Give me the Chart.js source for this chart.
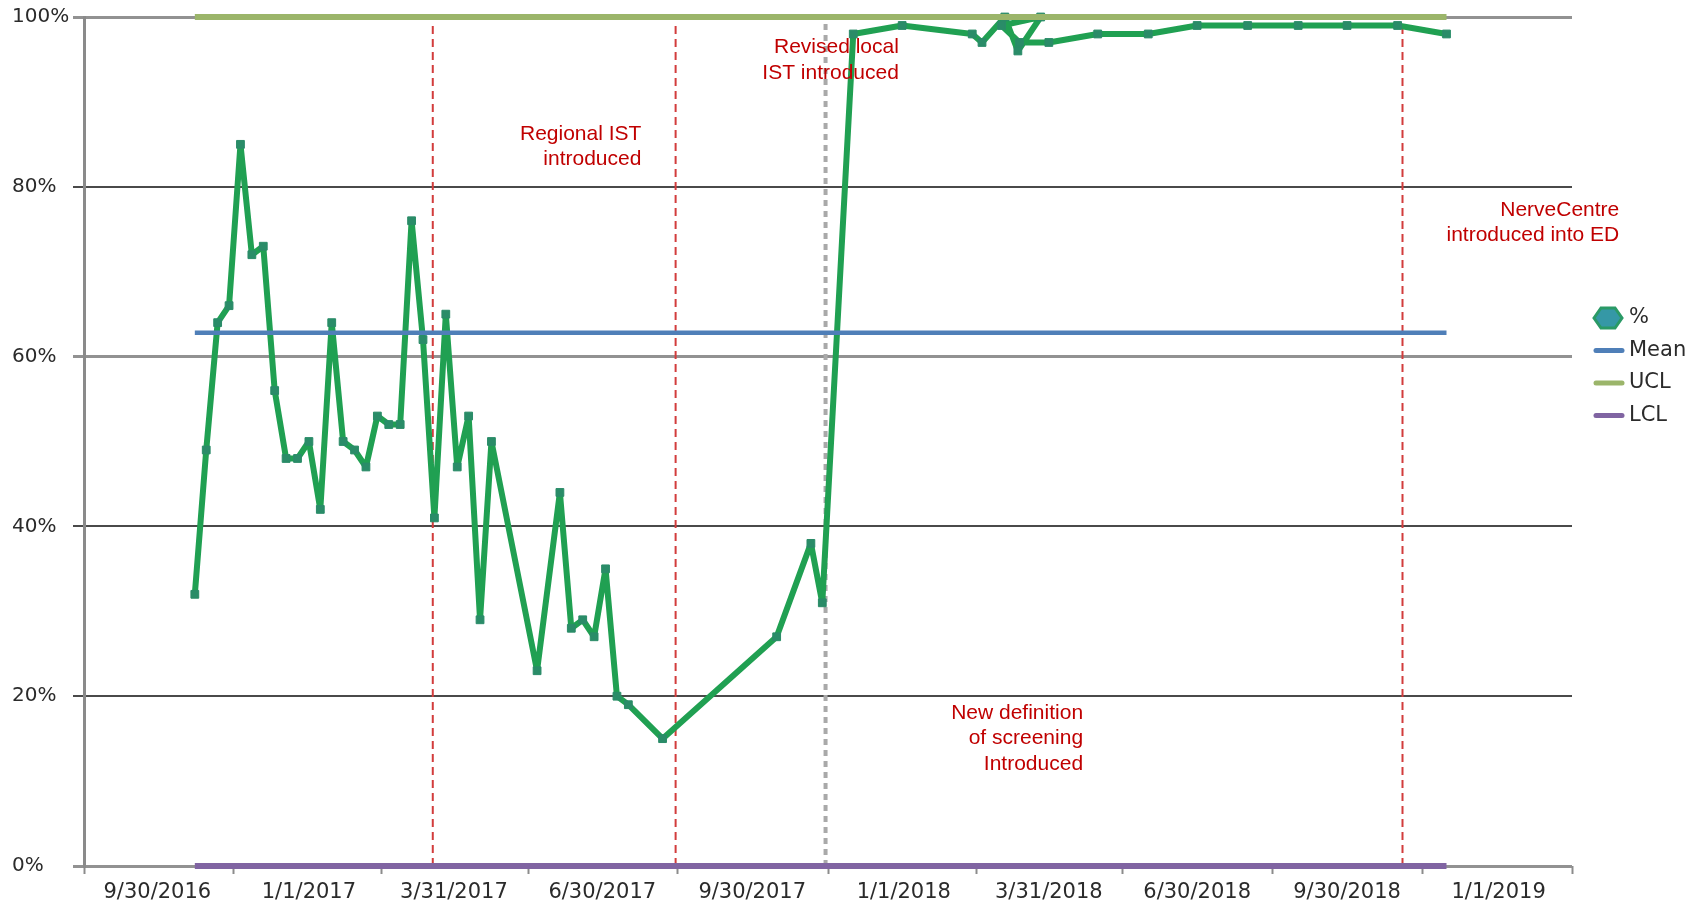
<!DOCTYPE html>
<html>
<head>
<meta charset="utf-8">
<title>Sepsis screening compliance</title>
<script src="https://cdn.jsdelivr.net/npm/chart.js@4.4.1/dist/chart.umd.min.js"></script>
<style>
  html, body { margin: 0; padding: 0; background: #ffffff; }
  canvas { display: block; }
</style>
</head>
<body>
<canvas id="spc" width="1707" height="912"></canvas>
<script>
// ---- data ----
const sampleDates = [
  '2016-10-23','2016-10-30','2016-11-06','2016-11-13','2016-11-20','2016-11-27','2016-12-04','2016-12-11','2016-12-18','2016-12-25',
  '2017-01-01','2017-01-08','2017-01-15','2017-01-22','2017-01-29','2017-02-05','2017-02-12','2017-02-19','2017-02-26',
  '2017-03-05','2017-03-12','2017-03-19','2017-03-26','2017-04-02','2017-04-09','2017-04-16','2017-04-23',
  '2017-05-21','2017-06-04','2017-06-11','2017-06-18','2017-06-25','2017-07-02','2017-07-09','2017-07-16','2017-08-06',
  '2017-10-15','2017-11-05','2017-11-12','2017-12-01','2017-12-31',
  '2018-02-12','2018-02-18','2018-03-04','2018-03-12','2018-03-26','2018-03-02','2018-03-13','2018-03-31',
  '2018-04-30','2018-05-31','2018-06-30','2018-07-31','2018-08-31','2018-09-30','2018-10-31','2018-11-30'
];
const screenedPct = [
  32, 49, 64, 66, 85, 72, 73, 56, 48, 48,
  50, 42, 64, 50, 49, 47, 53, 52, 52,
  76, 62, 41, 65, 47, 53, 29, 50,
  23, 44, 28, 29, 27, 35, 20, 19, 15,
  27, 38, 31, 98, 99,
  98, 97, 100, 96, 100, 99, 97, 97,
  98, 98, 99, 99, 99, 99, 99, 98
];
const meanPct = 62.8;
const uclPct = 100;
const lclPct = 0;

const tickDates = ['2016-09-30','2017-01-01','2017-03-31','2017-06-30','2017-09-30',
                   '2018-01-01','2018-03-31','2018-06-30','2018-09-30','2019-01-01'];
const yTickValues = [0, 20, 40, 60, 80, 100];
const axisStart = '2016-08-16';
const axisEnd = '2019-02-15';

// intervention markers
const eventDates = ['2017-03-18', '2017-08-14', '2018-11-03'];
const revisedIstDate = '2017-11-14';
const eventLineTop = 99.2;

const noteTexts = [
  ['Regional IST', 'introduced'],
  ['Revised local', 'IST introduced'],
  ['New definition', 'of screening', 'Introduced'],
  ['NerveCentre', 'introduced into ED']
];
// anchor of each note: right edge (date) and centre of first line (value)
const noteAnchorDates = ['2017-07-24', '2017-12-29', '2018-04-21', '2019-03-16'];
const noteAnchorValues = [86.2, 96.4, 18.0, 77.3];

// ---- helpers ----
function dayNum(s) {
  const [y, m, d] = s.split('-').map(Number);
  return Date.UTC(y, m - 1, d) / 86400000;
}
function fmtDate(s) {
  const [y, m, d] = s.split('-').map(Number);
  return m + '/' + d + '/' + y;
}

const xMin = dayNum(axisStart);
const xMax = dayNum(axisEnd);
const labelDays = tickDates.map(dayNum);
const labelText = new Map(tickDates.map(s => [dayNum(s), fmtDate(s)]));
// tick marks sit half-way between labelled dates
const boundaryDays = [xMin];
for (let i = 1; i < labelDays.length; i++) boundaryDays.push((labelDays[i - 1] + labelDays[i]) / 2);
boundaryDays.push(xMax);
const boundarySet = new Set(boundaryDays);

const pctPoints = sampleDates.map((s, i) => ({ x: dayNum(s), y: screenedPct[i] }));
const firstDay = dayNum(sampleDates[0]);
const lastDay = dayNum(sampleDates[sampleDates.length - 1]);
const flat = v => [{ x: firstDay, y: v }, { x: lastDay, y: v }];
const vertical = d => [{ x: dayNum(d), y: 0 }, { x: dayNum(d), y: eventLineTop }];

const FONT_AXIS = '"DejaVu Sans", Verdana, sans-serif';
const FONT_NOTE = '"Liberation Sans", Arial, sans-serif';

const datasets = [
  {
    label: '%', data: pctPoints, showLine: true, order: 10,
    borderColor: '#20a052', borderWidth: 6, borderJoinStyle: 'round',
    pointStyle: 'rect', pointRadius: 5.5, pointBorderWidth: 1,
    pointBackgroundColor: '#2a8c68', pointBorderColor: '#2a8c68',
    inLegend: true, swatch: 'marker', clip: false
  },
  { label: 'Mean', data: flat(meanPct), showLine: true, order: 3, borderColor: '#4f7fb8', borderWidth: 4.5,
    pointRadius: 0, inLegend: true, swatch: 'line', clip: false },
  { label: 'UCL', data: flat(uclPct), showLine: true, order: 2, borderColor: '#9bb56a', borderWidth: 6,
    pointRadius: 0, inLegend: true, swatch: 'line', clip: false },
  { label: 'LCL', data: flat(lclPct), showLine: true, order: 1, borderColor: '#8064a2', borderWidth: 6,
    pointRadius: 0, inLegend: true, swatch: 'line', clip: false }
];
eventDates.forEach(d => datasets.push({
  label: 'event', data: vertical(d), showLine: true, order: 20,
  borderColor: '#d23c3c', borderWidth: 2, borderDash: [8, 5], pointRadius: 0, clip: false
}));
datasets.push({
  label: 'revised', data: vertical(revisedIstDate), showLine: true, order: 19,
  borderColor: '#a9a9a9', borderWidth: 4, borderDash: [6, 5], pointRadius: 0, clip: false
});

// notes in red beside the intervention lines
const notesPlugin = {
  id: 'notes',
  afterDatasetsDraw(chart) {
    const { ctx, scales: { x, y } } = chart;
    ctx.save();
    ctx.font = '21px ' + FONT_NOTE;
    ctx.fillStyle = '#c00000';
    ctx.textAlign = 'right';
    ctx.textBaseline = 'middle';
    noteTexts.forEach((lines, i) => {
      const px = x.getPixelForValue(dayNum(noteAnchorDates[i]));
      const py = y.getPixelForValue(noteAnchorValues[i]);
      lines.forEach((t, k) => ctx.fillText(t, px, py + k * 25.5));
    });
    ctx.restore();
  }
};

// legend at the right of the plot
const legendPlugin = {
  id: 'sideLegend',
  afterDraw(chart) {
    const { ctx, chartArea } = chart;
    const x0 = chartArea.right + 22;
    const y0 = 318;
    const rowGap = 32.5;
    ctx.save();
    ctx.font = '21px ' + FONT_AXIS;
    ctx.textBaseline = 'middle';
    ctx.textAlign = 'left';
    chart.data.datasets.filter(d => d.inLegend).forEach((d, i) => {
      const cy = y0 + i * rowGap;
      if (d.swatch === 'marker') {
        ctx.beginPath();
        const w = 28, h = 20, cx = x0 + 14;
        ctx.moveTo(cx - w / 2, cy);
        ctx.lineTo(cx - w / 4, cy - h / 2);
        ctx.lineTo(cx + w / 4, cy - h / 2);
        ctx.lineTo(cx + w / 2, cy);
        ctx.lineTo(cx + w / 4, cy + h / 2);
        ctx.lineTo(cx - w / 4, cy + h / 2);
        ctx.closePath();
        ctx.fillStyle = '#3598a6';
        ctx.fill();
        ctx.lineWidth = 3;
        ctx.strokeStyle = '#2a9a66';
        ctx.stroke();
      } else {
        ctx.beginPath();
        ctx.lineCap = 'round';
        ctx.moveTo(x0 + 2, cy);
        ctx.lineTo(x0 + 28, cy);
        ctx.lineWidth = 5;
        ctx.strokeStyle = d.borderColor;
        ctx.stroke();
      }
      ctx.fillStyle = '#2b2b2b';
      ctx.fillText(d.label, x0 + 35, cy);
    });
    ctx.restore();
  }
};

const strongLine = v => (v === 20 || v === 40 || v === 80);

new Chart(document.getElementById('spc'), {
  type: 'scatter',
  data: { datasets },
  plugins: [notesPlugin, legendPlugin],
  options: {
    responsive: false,
    animation: false,
    devicePixelRatio: 1,
    layout: { padding: { left: 12, top: 17, right: 135, bottom: 0 } },
    plugins: { legend: { display: false }, tooltip: { enabled: false } },
    scales: {
      x: {
        type: 'linear',
        min: xMin,
        max: xMax,
        afterBuildTicks(scale) {
          scale.ticks = boundaryDays.concat(labelDays)
            .sort((a, b) => a - b)
            .map(v => ({ value: v }));
        },
        afterFit(scale) { scale.height = 46; },
        border: { display: false },
        grid: {
          drawOnChartArea: false,
          drawTicks: true,
          tickLength: 8,
          tickWidth: 2,
          tickColor: ctx => (ctx.tick && boundarySet.has(ctx.tick.value)) ? '#8c8c8c' : 'rgba(0,0,0,0)'
        },
        ticks: {
          autoSkip: false,
          maxRotation: 0,
          minRotation: 0,
          padding: 6,
          color: '#2b2b2b',
          font: { family: FONT_AXIS, size: 21 },
          callback: v => labelText.get(v) || ''
        }
      },
      y: {
        min: 0,
        max: 100,
        afterBuildTicks(scale) { scale.ticks = yTickValues.map(v => ({ value: v })); },
        afterFit(scale) { scale.width = 72; },
        border: { display: true, color: '#8a8a8a', width: 3 },
        grid: {
          drawTicks: true,
          tickLength: 11,
          color: ctx => strongLine(ctx.tick.value) ? '#4a4a4a' : '#929292',
          lineWidth: ctx => strongLine(ctx.tick.value) ? 2 : 3
        },
        ticks: {
          crossAlign: 'far',
          color: '#2b2b2b',
          font: { family: FONT_AXIS, size: 20 },
          callback: v => v + '%'
        }
      }
    }
  }
});
</script>
</body>
</html>
